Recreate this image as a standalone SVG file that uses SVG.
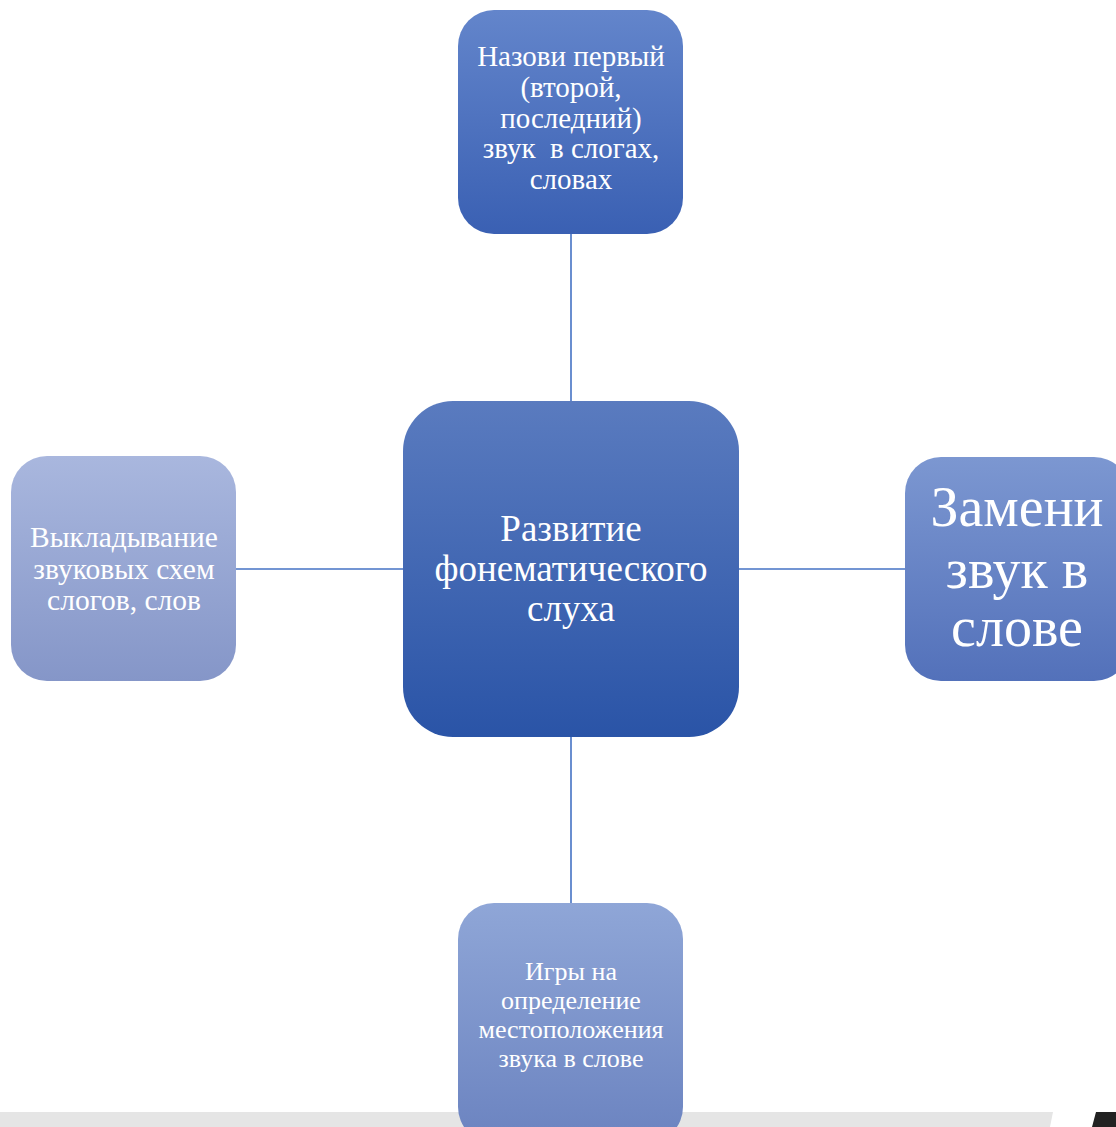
<svg xmlns="http://www.w3.org/2000/svg" width="1116" height="1127" viewBox="0 0 1116 1127">
<defs>
<linearGradient id="gC" x1="0" y1="0" x2="0" y2="1"><stop offset="0" stop-color="#5a7bbf"/><stop offset="1" stop-color="#2a54a7"/></linearGradient>
<linearGradient id="gT" x1="0" y1="0" x2="0" y2="1"><stop offset="0" stop-color="#6385cb"/><stop offset="1" stop-color="#3a60b3"/></linearGradient>
<linearGradient id="gL" x1="0" y1="0" x2="0" y2="1"><stop offset="0" stop-color="#a9b7de"/><stop offset="1" stop-color="#8596c8"/></linearGradient>
<linearGradient id="gR" x1="0" y1="0" x2="0" y2="1"><stop offset="0" stop-color="#7c97d1"/><stop offset="1" stop-color="#5371ba"/></linearGradient>
<linearGradient id="gB" x1="0" y1="0" x2="0" y2="1"><stop offset="0" stop-color="#8fa6d7"/><stop offset="1" stop-color="#6b83c0"/></linearGradient>
</defs>
<style>
.t{font-family:"Liberation Serif","Times New Roman",serif;fill:#ffffff;text-anchor:middle}
.c{stroke:#4472c4;stroke-width:1.6;fill:none}
</style>
<rect x="0" y="0" width="1116" height="1127" fill="#ffffff"/>
<polygon points="0,1112 1053,1112 1050,1127 0,1127" fill="#e5e5e5"/>
<polygon points="1096,1112 1116,1112 1116,1127 1092,1127" fill="#222222"/>
<g id="connectors">
<line class="c" x1="571" y1="234" x2="571" y2="401"/>
<line class="c" x1="571" y1="737" x2="571" y2="903"/>
<line class="c" x1="236" y1="569" x2="403" y2="569"/>
<line class="c" x1="739" y1="569" x2="905" y2="569"/>
</g>
<g id="center">
<rect x="403" y="401" width="336" height="336" rx="50" fill="url(#gC)"/>
<text class="t" font-size="37"><tspan x="571" y="541">Развитие</tspan><tspan x="571" y="581">фонематического</tspan><tspan x="571" y="621">слуха</tspan></text>
</g>
<g id="top">
<rect x="458" y="10" width="225" height="224" rx="36" fill="url(#gT)"/>
<text class="t" font-size="29"><tspan x="571" y="66">Назови первый</tspan><tspan x="571" y="97">(второй,</tspan><tspan x="571" y="128">последний)</tspan><tspan x="571" y="158" xml:space="preserve">звук  в слогах,</tspan><tspan x="571" y="189">словах</tspan></text>
</g>
<g id="left">
<rect x="11" y="456" width="225" height="225" rx="36" fill="url(#gL)"/>
<text class="t" font-size="29.5"><tspan x="124" y="547">Выкладывание</tspan><tspan x="124" y="579">звуковых схем</tspan><tspan x="124" y="610">слогов, слов</tspan></text>
</g>
<g id="right">
<rect x="905" y="457" width="225" height="224" rx="36" fill="url(#gR)"/>
<text class="t" font-size="56"><tspan x="1017" y="526">Замени</tspan><tspan x="1017" y="588">звук в</tspan><tspan x="1017" y="646">слове</tspan></text>
</g>
<g id="bottom">
<rect x="458" y="903" width="225" height="240" rx="36" fill="url(#gB)"/>
<text class="t" font-size="26"><tspan x="571" y="980">Игры на</tspan><tspan x="571" y="1009">определение</tspan><tspan x="571" y="1038">местоположения</tspan><tspan x="571" y="1067">звука в слове</tspan></text>
</g>
</svg>
